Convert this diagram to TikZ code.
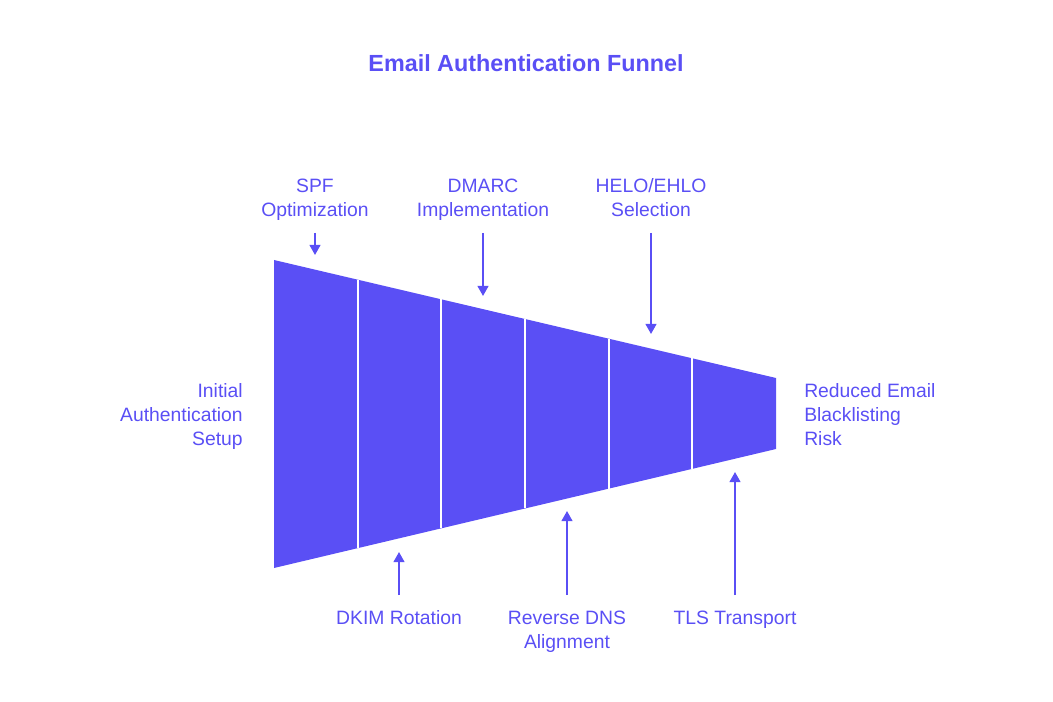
\documentclass[tikz,border=0pt]{standalone}
\usepackage{fontspec}
\setmainfont{Liberation Sans}
\usepackage{tikz}
\usetikzlibrary{arrows.meta}
\usetikzlibrary{positioning}
\definecolor{funnelblue}{HTML}{5A4FF5}
\tikzset{
	lbl/.style={text=funnelblue, font=\fontsize{14.5}{18}\selectfont, align=center, inner sep=0pt},
	pointer/.style={draw=funnelblue, line width=1.5pt, -{Triangle[width=8pt,length=7.5pt]}},
}

\begin{document}
\begin{tikzpicture}[x=0.75pt,y=-0.75pt]
			\useasboundingbox (0,0) rectangle (1053,702);
			
			\node[text=funnelblue, font=\bfseries\fontsize{17.5}{20}\selectfont] (title) at (526,63) {Email Authentication Funnel};
			
			% funnel body
			\fill[funnelblue] (274,260) -- (776,378) -- (776,449) -- (274,568) -- cycle;
			\foreach \k in {1,...,5} {
				\pgfmathsetmacro\xx{274+\k*83.667}
				\pgfmathsetmacro\yt{260+(\xx-274)*0.2351}
				\pgfmathsetmacro\yb{568-(\xx-274)*0.2371}
				\draw[white, line width=1.6pt] (\xx,\yt) -- (\xx,\yb);
			}
			
			\node[lbl, align=right, anchor=east] (start) at (243,417) {\strut Initial\\Authentication\\Setup\strut};
			\node[lbl, align=left, anchor=west] (finish) at (804,417) {\strut Reduced Email\\Blacklisting\\Risk\strut};
			
			\node[lbl] (spf) at (315,200) {\strut SPF\\Optimization\strut};
			\node[lbl] (dmarc) at (483,200) {\strut DMARC\\Implementation\strut};
			\node[lbl] (helo) at (651,200) {\strut HELO/EHLO\\Selection\strut};
			\node[lbl] (dkim) at (399,620) {\strut DKIM Rotation};
			\node[lbl] (rdns) at (567,632) {\strut Reverse DNS\\Alignment\strut};
			\node[lbl] (tls) at (735,620) {\strut TLS Transport};
			
			\coordinate (spf a) at (315,233);
			\coordinate (spf b) at (315,255);
			\coordinate (dmarc a) at (483,233);
			\coordinate (dmarc b) at (483,296);
			\coordinate (helo a) at (651,233);
			\coordinate (helo b) at (651,334);
			\coordinate (dkim a) at (399,595);
			\coordinate (dkim b) at (399,552);
			\coordinate (rdns a) at (567,595);
			\coordinate (rdns b) at (567,511);
			\coordinate (tls a) at (735,595);
			\coordinate (tls b) at (735,472);
			
			\draw[pointer] (spf a) -- (spf b);
			\draw[pointer] (dmarc a) -- (dmarc b);
			\draw[pointer] (helo a) -- (helo b);
			\draw[pointer] (dkim a) -- (dkim b);
			\draw[pointer] (rdns a) -- (rdns b);
			\draw[pointer] (tls a) -- (tls b);
			
		\end{tikzpicture}
\end{document}
